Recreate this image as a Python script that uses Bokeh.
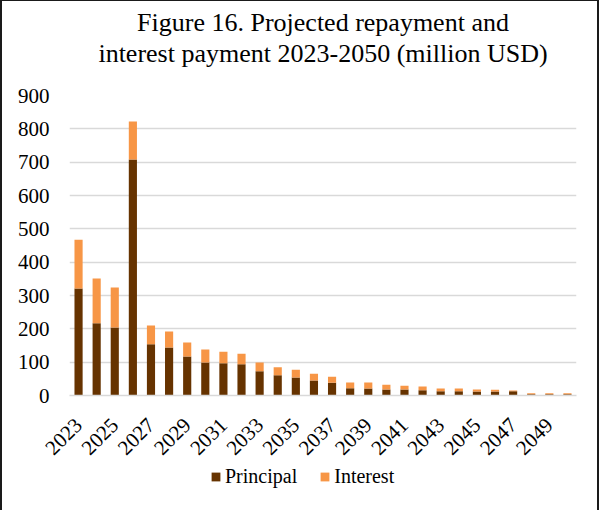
from bokeh.plotting import figure
from bokeh.layouts import column
from bokeh.models import Title, Legend, LegendItem, FixedTicker, Range1d, ColumnDataSource
from bokeh.embed import file_html
from bokeh.resources import INLINE

# Projected repayment schedule, million USD
years = list(range(2023, 2051))
principal = [321, 217, 204, 708, 154, 144, 117, 99, 97, 94, 73, 61, 54, 45,
             38, 22, 21, 18, 18, 16, 13, 13, 12, 12, 13, 4, 4, 4]
interest = [146, 134, 120, 114, 56, 48, 42, 39, 34, 31, 26, 24, 23, 20,
            18, 17, 18, 14, 11, 11, 8, 8, 6, 5, 2, 3, 3, 3]
series = ["Principal", "Interest"]
colors = ["#663300", "#F79646"]
labelled_years = [y for y in years if (y - 2023) % 2 == 0]

FONT = "Liberation Serif"
FRAME = "2px solid #1a1a1a"

source = ColumnDataSource(dict(year=years, Principal=principal, Interest=interest))

p = figure(width=595, height=464, output_backend="svg", toolbar_location=None,
           x_range=Range1d(2022.5, 2050.5), y_range=Range1d(0, 900),
           min_border_left=67, min_border_right=21, min_border_top=94,
           min_border_bottom=70)
p.outline_line_color = None

p.vbar_stack(series, x="year", width=0.45, color=colors, line_color=None, source=source)

# Two-line title; an almost empty title nearest the plot keeps a gap above the bars
p.title.text = "Figure 16. Projected repayment and"
p.title.text_font = FONT
p.title.text_font_size = "26px"
p.title.text_font_style = "normal"
p.title.text_color = "#000000"
p.title.align = "center"
p.title.standoff = 0
p.add_layout(Title(text=" ", text_font_size="1px", standoff=25), "above")
p.add_layout(Title(text="interest payment 2023-2050 (million USD)", text_font=FONT,
                   text_font_size="26px", text_font_style="normal",
                   text_color="#000000", align="center", standoff=0), "above")

# Axes
p.xaxis.ticker = FixedTicker(ticks=labelled_years)
p.xaxis.major_label_orientation = 0.785398
p.xaxis.major_label_text_font = FONT
p.xaxis.major_label_text_font_size = "21px"
p.xaxis.major_label_text_color = "#000000"
p.xaxis.major_tick_line_color = None
p.xaxis.minor_tick_line_color = None
p.xaxis.axis_line_color = "#D9D9D9"
p.xaxis.axis_line_width = 1.5
p.xaxis.major_label_standoff = 20

p.yaxis.ticker = FixedTicker(ticks=list(range(0, 901, 100)))
p.yaxis.major_label_text_font = FONT
p.yaxis.major_label_text_font_size = "21px"
p.yaxis.major_label_text_color = "#000000"
p.yaxis.major_tick_line_color = None
p.yaxis.minor_tick_line_color = None
p.yaxis.axis_line_color = None
p.yaxis.major_label_standoff = 14

p.xgrid.grid_line_color = None
p.ygrid.grid_line_color = "#D9D9D9"
p.ygrid.grid_line_width = 1.5

# Legend strip under the chart, same width and side margins as the chart;
# its key swatches lie entirely outside the visible range
lf = figure(width=595, height=45, output_backend="svg", toolbar_location=None,
            x_range=Range1d(0, 1), y_range=Range1d(0, 1),
            x_axis_type=None, y_axis_type=None,
            min_border_left=67, min_border_right=21, min_border_top=0,
            min_border_bottom=0)
lf.outline_line_color = None
lf.background_fill_color = "#ffffff"
lf.border_fill_color = "#ffffff"
keys = [lf.vbar(x=[-5], top=[-5], bottom=[-6], width=0.5, color=c, line_color=None)
        for c in colors]

legend = Legend(items=[LegendItem(label=s, renderers=[r]) for s, r in zip(series, keys)],
                orientation="horizontal", location=(141, 22),
                label_text_font=FONT, label_text_font_size="20px",
                label_text_color="#000000", glyph_width=11, glyph_height=11,
                label_height=20, label_standoff=4, spacing=22, border_line_color=None,
                background_fill_alpha=0, padding=0, margin=0)
lf.add_layout(legend, "center")

layout = column(p, lf, spacing=0)
layout.styles = {"border-top": "1px solid #1a1a1a", "border-left": FRAME, "border-right": FRAME}
open("out.html", "w").write(file_html(layout, INLINE))
